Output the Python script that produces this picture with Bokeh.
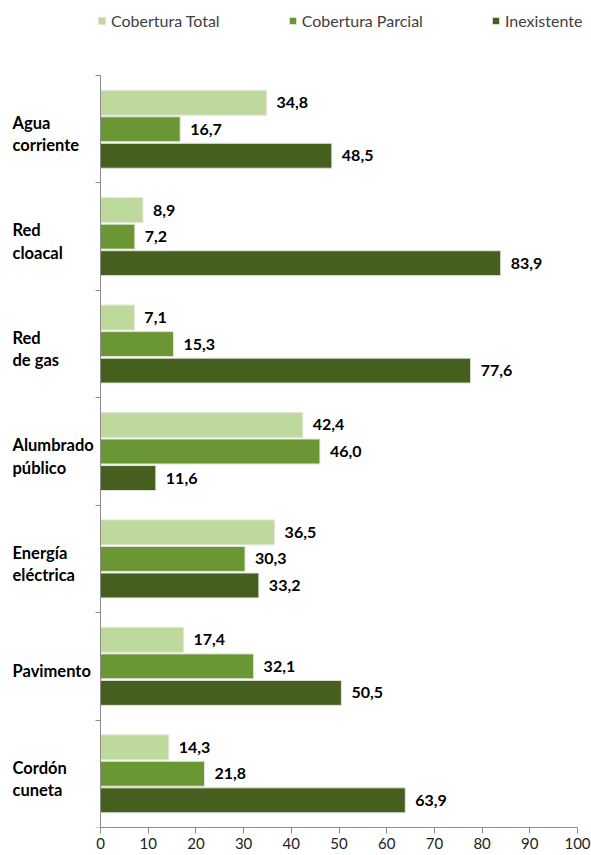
from bokeh.plotting import figure
from bokeh.models import (ColumnDataSource, Range1d, FixedTicker, Legend, LegendItem)
from bokeh.core.properties import value
from bokeh.embed import file_html
from bokeh.resources import INLINE

categories = ["Agua\ncorriente", "Red\ncloacal", "Red\nde gas", "Alumbrado\npúblico",
              "Energía\neléctrica", "Pavimento", "Cordón\ncuneta"]
series_names = ["Cobertura Total", "Cobertura Parcial", "Inexistente"]
total = [34.8, 8.9, 7.1, 42.4, 36.5, 17.4, 14.3]
parcial = [16.7, 7.2, 15.3, 46.0, 30.3, 32.1, 21.8]
inexistente = [48.5, 83.9, 77.6, 11.6, 33.2, 50.5, 63.9]
x_ticks = [0, 10, 20, 30, 40, 50, 60, 70, 80, 90, 100]

colors = ["#BDD99C", "#6A9633", "#445F1E"]
offsets = [-0.247, 0.0, 0.247]
bar_h = 0.232
FONT = "Lato"

W, H = 591, 855
PX0, PX100 = 100, 577  # pixel positions of value 0 and 100
FRAME_TOP, FRAME_BOTTOM = 75, 827
ppu = (PX100 - PX0) / 100.0
ncat = len(categories)
cat_px = (FRAME_BOTTOM - FRAME_TOP) / ncat

x_start = -PX0 / ppu
x_end = 100 + (W - PX100) / ppu
y_start = ncat
y_end = -FRAME_TOP / cat_px

p = figure(width=W, height=H, output_backend="svg", toolbar_location=None,
           x_range=Range1d(x_start, x_end), y_range=Range1d(y_start, y_end),
           min_border_left=0, min_border_right=0, min_border_top=0, min_border_bottom=28)
p.outline_line_color = None
p.xgrid.visible = False
p.ygrid.visible = False

items = []
for name, vals, col, off in zip(series_names, [total, parcial, inexistente], colors, offsets):
    ys = [i + 0.5 + off for i in range(ncat)]
    src = ColumnDataSource(dict(y=ys, v=vals, lab=[f"{v:.1f}".replace(".", ",") for v in vals]))
    r = p.hbar(y="y", right="v", left=0, height=bar_h, fill_color=col,
               line_color="#E4E4DA", line_width=1, source=src)
    p.text(x="v", y="y", text="lab", source=src, x_offset=10, text_baseline="middle",
           text_align="left", text_font=value(FONT), text_font_style="bold",
           text_font_size="16px", text_color="#000000")
    items.append(LegendItem(label=name, renderers=[r]))

legend = Legend(items=items, orientation="horizontal",
                location=(97, FRAME_BOTTOM - 30),
                spacing=68, padding=0, margin=0, glyph_width=9, glyph_height=9,
                label_standoff=5, label_height=16, label_text_font=FONT,
                label_text_font_size="16px", label_text_color="#404040",
                border_line_color=None, background_fill_alpha=0)
p.add_layout(legend, "center")

cat_src = ColumnDataSource(dict(x=[0] * ncat, y=[i + 0.5 for i in range(ncat)], t=categories))
p.text(x="x", y="y", text="t", source=cat_src, x_offset=-(PX0 - 12), y_offset=5,
       text_align="left", text_baseline="middle", text_font=value(FONT),
       text_font_style="bold", text_font_size="16.5px", text_color="#000000",
       text_line_height=1.12)

p.xaxis.ticker = FixedTicker(ticks=x_ticks)
p.xaxis.bounds = (0, 100)
p.xaxis.axis_line_color = "#8C8C8C"
p.xaxis.major_tick_line_color = "#8C8C8C"
p.xaxis.major_tick_out = 6
p.xaxis.major_tick_in = 0
p.xaxis.minor_tick_line_color = None
p.xaxis.major_label_text_font = FONT
p.xaxis.major_label_text_font_size = "15px"
p.xaxis.major_label_text_color = "#222222"
p.xaxis.major_label_standoff = 4

p.yaxis.ticker = FixedTicker(ticks=[], minor_ticks=list(range(ncat + 1)))
p.yaxis.bounds = (0, ncat)
p.yaxis.fixed_location = 0
p.yaxis.axis_line_color = "#8C8C8C"
p.yaxis.major_tick_line_color = None
p.yaxis.minor_tick_line_color = "#8C8C8C"
p.yaxis.minor_tick_out = 5
p.yaxis.minor_tick_in = 0

open("out.html", "w").write(file_html(p, INLINE))
